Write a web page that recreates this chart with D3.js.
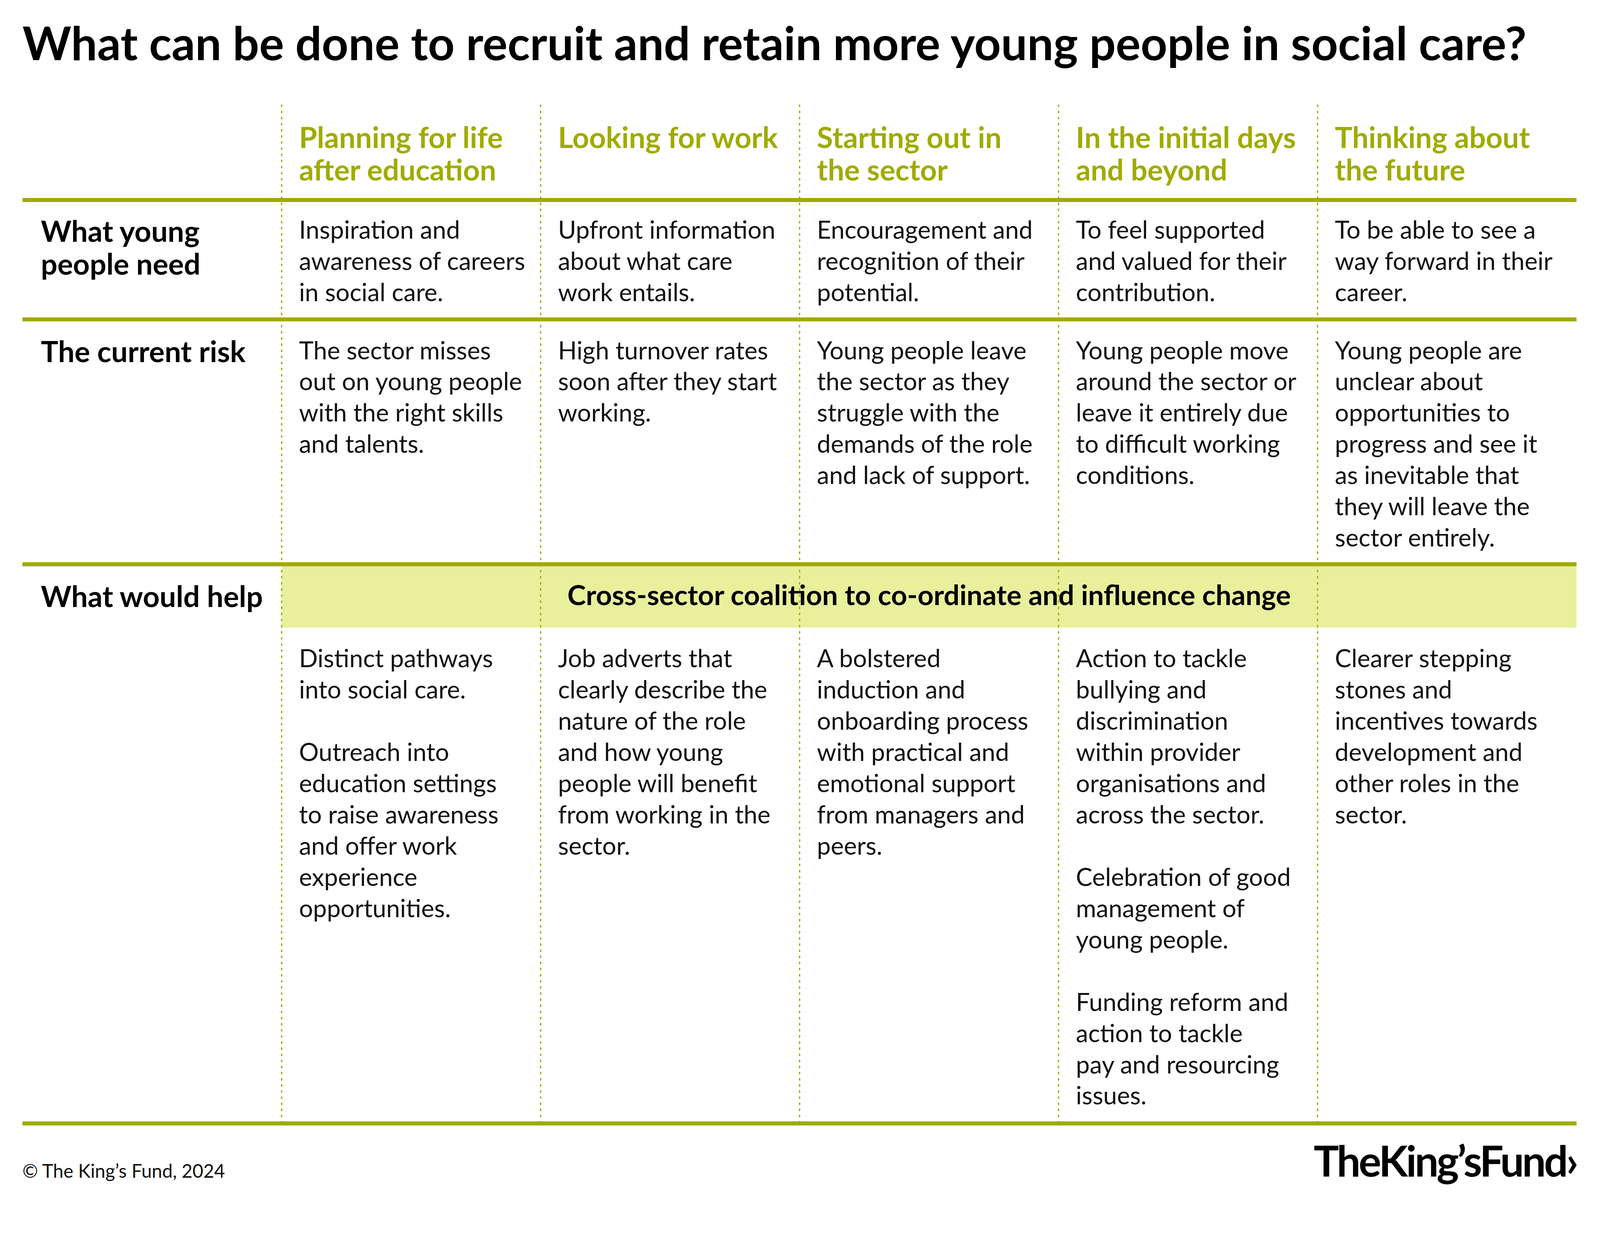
<!DOCTYPE html>
<html>
<head>
<meta charset="utf-8">
<script src="https://cdn.jsdelivr.net/npm/d3@7"></script>
<style>
  html, body { margin: 0; padding: 0; background: #fff; overflow: hidden; }
  svg { display: block; width: 100vw; height: 100vh; }
  text { font-family: Lato, "Open Sans", sans-serif; }
</style>
</head>
<body>
<div id="chart"></div>
<script>
// stages (column headers), each split into lines
const stages = [
  ["Planning for life", "after education"],
  ["Looking for work"],
  ["Starting out in", "the sector"],
  ["In the initial days", "and beyond"],
  ["Thinking about", "the future"]
];

const rowLabels = [["What young", "people need"], ["The current risk"], ["What would help"]];

const needs = [
  ["Inspiration and", "awareness of careers", "in social care."],
  ["Upfront information", "about what care", "work entails."],
  ["Encouragement and", "recognition of their", "potential."],
  ["To feel supported", "and valued for their", "contribution."],
  ["To be able to see a", "way forward in their", "career."]
];

const risks = [
  ["The sector misses", "out on young people", "with the right skills", "and talents."],
  ["High turnover rates", "soon after they start", "working."],
  ["Young people leave", "the sector as they", "struggle with the", "demands of the role", "and lack of support."],
  ["Young people move", "around the sector or", "leave it entirely due", "to difficult working", "conditions."],
  ["Young people are", "unclear about", "opportunities to", "progress and see it", "as inevitable that", "they will leave the", "sector entirely."]
];

const coalition = "Cross-sector coalition to co-ordinate and influence change";

// "" marks a paragraph break
const helps = [
  ["Distinct pathways", "into social care.", "", "Outreach into", "education settings", "to raise awareness", "and offer work", "experience", "opportunities."],
  ["Job adverts that", "clearly describe the", "nature of the role", "and how young", "people will benefit", "from working in the", "sector."],
  ["A bolstered", "induction and", "onboarding process", "with practical and", "emotional support", "from managers and", "peers."],
  ["Action to tackle", "bullying and", "discrimination", "within provider", "organisations and", "across the sector.", "", "Celebration of good", "management of", "young people.", "", "Funding reform and", "action to tackle", "pay and resourcing", "issues."],
  ["Clearer stepping", "stones and", "incentives towards", "development and", "other roles in the", "sector."]
];

const W = 1568, H = 1176;
const olive = "#a0ab00", green = "#e8f09c";
const lineH = 30.6;

const svg = d3.select("#chart").append("svg")
  .attr("viewBox", `0 0 ${W} ${H}`)
  .attr("preserveAspectRatio", "xMinYMin meet");

const x = d3.scaleLinear().domain([0, 5]).range([276, 1545]);
const left = 22, right = 1545;

// title
svg.append("text").attr("x", left).attr("y", 59)
  .attr("font-size", 45.6).attr("font-weight", 700).attr("fill", "#000")
  .text("What can be done to recruit and retain more young people in social care?");

// coalition band
svg.append("rect").attr("x", x(0)).attr("y", 555).attr("width", x(5) - x(0)).attr("height", 60)
  .attr("fill", green);
svg.append("text").attr("x", (x(0) + x(5)) / 2).attr("y", 593).attr("text-anchor", "middle")
  .attr("font-size", 27.4).attr("font-weight", 700).attr("fill", "#000").text(coalition);

// dotted column separators
svg.selectAll("line.col").data(d3.range(5)).enter().append("line")
  .attr("class", "col")
  .attr("x1", d => x(d)).attr("x2", d => x(d))
  .attr("y1", 103).attr("y2", 1100)
  .attr("stroke", olive).attr("stroke-width", 1.3)
  .attr("stroke-dasharray", "1.4 4.6").attr("stroke-linecap", "round");

// horizontal rules
svg.selectAll("line.rule").data([196, 313, 553, 1101]).enter().append("line")
  .attr("class", "rule")
  .attr("x1", left).attr("x2", right).attr("y1", d => d).attr("y2", d => d)
  .attr("stroke", olive).attr("stroke-width", 4);

function block(lines, x0, y0, opts) {
  const t = svg.append("text").attr("x", x0).attr("y", y0)
    .attr("font-size", opts.size).attr("font-weight", opts.weight || 400)
    .attr("fill", opts.fill || "#111");
  lines.forEach((l, i) => {
    t.append("tspan").attr("x", x0).attr("y", y0 + i * opts.lh).text(l);
  });
}

// headers
stages.forEach((s, i) => block(s, x(i) + 17, 145, { size: 28.6, weight: 700, fill: olive, lh: 32 }));

// row labels
block(rowLabels[0], 40, 237, { size: 28.6, weight: 700, fill: "#000", lh: 32 });
block(rowLabels[1], 40, 355, { size: 28.6, weight: 700, fill: "#000", lh: 32 });
block(rowLabels[2], 40, 595, { size: 28.6, weight: 700, fill: "#000", lh: 32 });

// body cells
needs.forEach((c, i) => block(c, x(i) + 17, 234, { size: 24.2, lh: lineH }));
risks.forEach((c, i) => block(c, x(i) + 17, 352, { size: 24.2, lh: lineH }));
helps.forEach((c, i) => block(c, x(i) + 17, 654, { size: 24.2, lh: lineH }));

// footer
svg.append("text").attr("x", left).attr("y", 1154).attr("font-size", 18.3).attr("fill", "#111")
  .text("© The King’s Fund, 2024");
svg.append("text").attr("x", right).attr("y", 1153).attr("text-anchor", "end")
  .attr("font-size", 41.5).attr("font-weight", 700).attr("letter-spacing", -1.9).attr("fill", "#000")
  .text("TheKing’sFund›");
</script>
</body>
</html>
